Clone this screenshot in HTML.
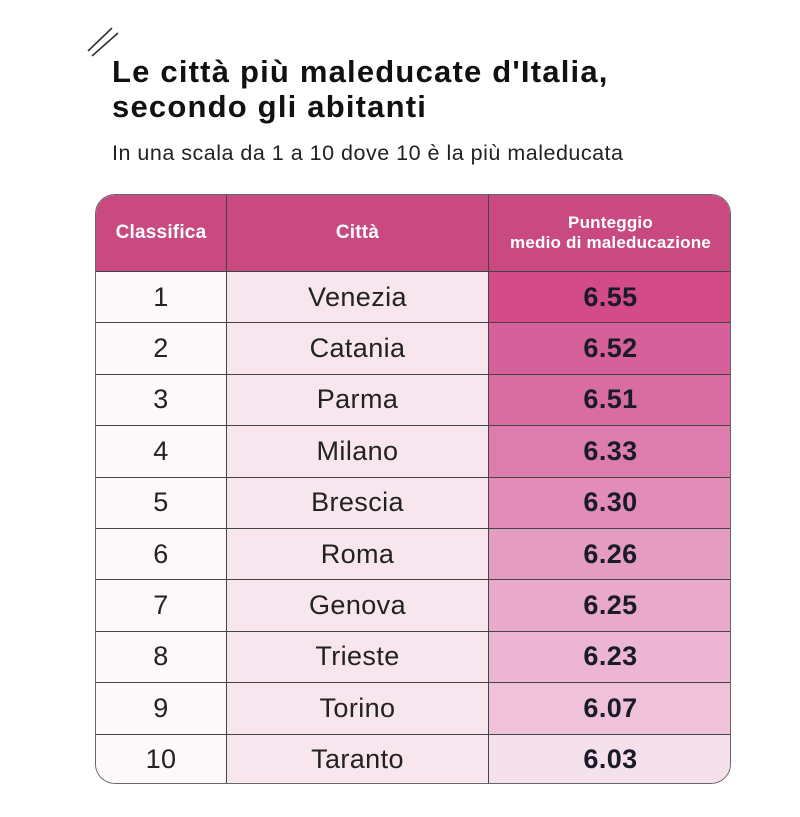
<!DOCTYPE html>
<html><head><meta charset="utf-8"><style>
body{margin:0;width:800px;height:817px;background:#fff;font-family:"Liberation Sans",sans-serif;position:relative;overflow:hidden}
.t{position:absolute;left:112px;top:54px;font-size:31px;font-weight:bold;line-height:35px;color:#111;letter-spacing:1.2px}
.s{position:absolute;left:112px;top:141px;font-size:21.5px;color:#222;letter-spacing:0.5px}
.tbl{position:absolute;left:95px;top:194px;width:636px;height:590px;border:1px solid #666;border-radius:20px;overflow:hidden;box-sizing:border-box}
.c{position:absolute;display:flex;align-items:center;justify-content:center;box-sizing:border-box;text-align:center}
.h{background:#c94a80;color:#fff;font-weight:bold;font-size:19px;height:76px;top:0;letter-spacing:0.2px}
.h2{font-size:17px;line-height:20px}
.r{font-size:27px;color:#222;height:51.4px;border-top:1px solid #444;letter-spacing:0.4px}
.b{font-weight:bold;color:#1a1a2a;font-size:27px}
</style></head><body>
<svg style="position:absolute;left:85px;top:25px" width="40" height="40"><path d="M3 26 L27 3 M7 31 L33 8" stroke="#333" stroke-width="1.6" fill="none"/></svg>
<div class="t">Le città più maleducate d'Italia,<br>secondo gli abitanti</div>
<div class="s">In una scala da 1 a 10 dove 10 è la più maleducata</div>
<div class="tbl" id="tb">
<div class="c h" style="left:0;width:131px;border-right:1px solid #444">Classifica</div>
<div class="c h" style="left:131px;width:262px;border-right:1px solid #444">Città</div>
<div class="c h h2" style="left:393px;width:243px">Punteggio<br>medio di maleducazione</div>
</div>
<script>
var d=[["1","Venezia","6.55","#d34c88"],["2","Catania","6.52","#d6609a"],["3","Parma","6.51","#d96ca1"],["4","Milano","6.33","#dd7dad"],["5","Brescia","6.30","#e18db7"],["6","Roma","6.26","#e59cc1"],["7","Genova","6.25","#e9a9ca"],["8","Trieste","6.23","#ecb5d2"],["9","Torino","6.07","#f0c2da"],["10","Taranto","6.03","#f5e1eb"]];
var tb=document.getElementById('tb'),h="";
d.forEach(function(r,i){var y=76+i*51.4;
h+='<div class="c r" style="top:'+y+'px;left:0;width:131px;background:#fdf8fa;border-right:1px solid #444">'+r[0]+'</div>';
h+='<div class="c r" style="top:'+y+'px;left:131px;width:262px;background:#f7e6ee;border-right:1px solid #444">'+r[1]+'</div>';
h+='<div class="c r b" style="top:'+y+'px;left:393px;width:243px;background:'+r[3]+'">'+r[2]+'</div>';});
tb.insertAdjacentHTML('beforeend',h);
</script>
</body></html>
